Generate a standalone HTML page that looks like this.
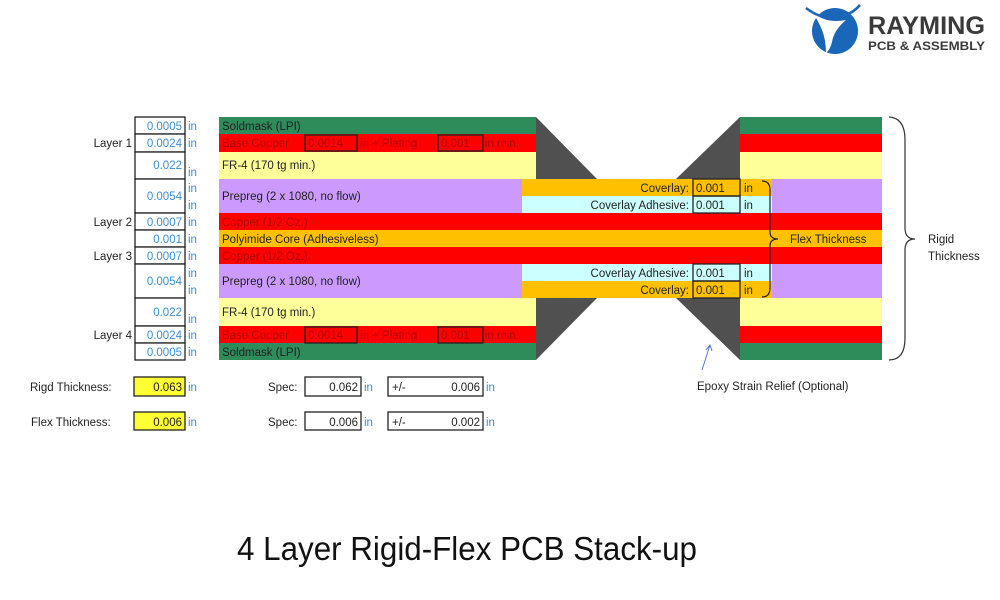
<!DOCTYPE html>
<html><head><meta charset="utf-8"><style>
html,body{margin:0;padding:0;background:#fff;width:1000px;height:600px;overflow:hidden}
svg{display:block}
text{font-family:"Liberation Sans",Arial,sans-serif}
</style></head><body>
<svg width="1000" height="600" viewBox="0 0 1000 600" xmlns="http://www.w3.org/2000/svg">
<rect width="1000" height="600" fill="#fff"/>
<!-- logo -->
<circle cx="835" cy="31" r="23" fill="#1a66b8"/>
<path d="M812 12 Q826 24 846 20 Q834 30 832 42 Q830 50 826 53 Q826 40 822 30 Q818 20 812 12Z" fill="#fff"/>
<path d="M806 8 Q824 22 844 16 Q854 12 860 5" stroke="#1a66b8" stroke-width="2.5" fill="none"/>
<text x="868" y="34" font-size="25" font-weight="bold" fill="#3a3a3a" font-family="Liberation Serif" textLength="117" lengthAdjust="spacingAndGlyphs">RAYMING</text>
<text x="868" y="50" font-size="12" font-weight="bold" fill="#3a3a3a" textLength="117" lengthAdjust="spacingAndGlyphs">PCB &amp; ASSEMBLY</text>

<!-- left rigid -->
<rect x="219" y="117" width="317" height="17" fill="#2e8b5a"/>
<rect x="219" y="134" width="317" height="18" fill="#ff0000"/>
<rect x="219" y="152" width="317" height="27" fill="#ffff99"/>
<rect x="219" y="179" width="303" height="34" fill="#cc99ff"/>
<rect x="219" y="264" width="303" height="34" fill="#cc99ff"/>
<rect x="219" y="298" width="317" height="28" fill="#ffff99"/>
<rect x="219" y="326" width="317" height="17" fill="#ff0000"/>
<rect x="219" y="343" width="317" height="17" fill="#2e8b5a"/>
<!-- right rigid -->
<rect x="740" y="117" width="142" height="17" fill="#2e8b5a"/>
<rect x="740" y="134" width="142" height="18" fill="#ff0000"/>
<rect x="740" y="152" width="142" height="27" fill="#ffff99"/>
<rect x="772" y="179" width="110" height="34" fill="#cc99ff"/>
<rect x="772" y="264" width="110" height="34" fill="#cc99ff"/>
<rect x="740" y="298" width="142" height="28" fill="#ffff99"/>
<rect x="740" y="326" width="142" height="17" fill="#ff0000"/>
<rect x="740" y="343" width="142" height="17" fill="#2e8b5a"/>
<!-- gray epoxy -->
<polygon points="536,117 597,179 597,298 536,360" fill="#505050"/>
<polygon points="740,117 676,179 676,298 740,360" fill="#505050"/>
<!-- flex -->
<rect x="522" y="179" width="250" height="17" fill="#ffc000"/>
<rect x="522" y="196" width="250" height="17" fill="#ccffff"/>
<rect x="219" y="213" width="663" height="17" fill="#ff0000"/>
<rect x="219" y="230" width="663" height="17" fill="#ffc000"/>
<rect x="219" y="247" width="663" height="17" fill="#ff0000"/>
<rect x="522" y="264" width="250" height="17" fill="#ccffff"/>
<rect x="522" y="281" width="250" height="17" fill="#ffc000"/>

<g font-size="11.5" fill="#222">
<text x="222" y="130">Soldmask (LPI)</text>
<text x="222" y="147" fill="#b00000">Base Copper</text><text x="360" y="147" fill="#b00000">in +  Plating</text><text x="485" y="147" fill="#b00000">in min.</text>
<text x="222" y="169">FR-4 (170 tg min.)</text>
<text x="222" y="200">Prepreg (2 x 1080, no flow)</text>
<text x="222" y="226" fill="#b00000">Copper (1/2 Oz.)</text>
<text x="222" y="243">Polyimide Core (Adhesiveless)</text>
<text x="222" y="260" fill="#b00000">Copper (1/2 Oz.)</text>
<text x="222" y="285">Prepreg (2 x 1080, no flow)</text>
<text x="222" y="316">FR-4 (170 tg min.)</text>
<text x="222" y="339" fill="#b00000">Base Copper</text><text x="360" y="339" fill="#b00000">in +  Plating</text><text x="485" y="339" fill="#b00000">in min.</text>
<text x="222" y="356">Soldmask (LPI)</text>
</g>
<g fill="none" stroke="#222" stroke-width="1.3">
<rect x="305" y="135" width="52" height="16"/><rect x="438" y="135" width="45" height="16"/>
<rect x="305" y="327" width="52" height="16"/><rect x="438" y="327" width="45" height="16"/>
<rect x="693" y="179" width="47" height="17"/><rect x="693" y="196" width="47" height="17"/>
<rect x="693" y="264" width="47" height="17"/><rect x="693" y="281" width="47" height="17"/>
</g>
<g font-size="11.5" fill="#b00000">
<text x="308" y="147">0.0014</text><text x="441" y="147">0.001</text>
<text x="308" y="339">0.0014</text><text x="441" y="339">0.001</text>
</g>
<g font-size="11.5" fill="#222">
<text x="689" y="192" text-anchor="end">Coverlay:</text><text x="696" y="192">0.001</text><text x="744" y="192">in</text>
<text x="689" y="209" text-anchor="end">Coverlay Adhesive:</text><text x="696" y="209">0.001</text><text x="744" y="209">in</text>
<text x="689" y="277" text-anchor="end">Coverlay Adhesive:</text><text x="696" y="277">0.001</text><text x="744" y="277">in</text>
<text x="689" y="294" text-anchor="end">Coverlay:</text><text x="696" y="294">0.001</text><text x="744" y="294">in</text>
<text x="790" y="243">Flex Thickness</text>
<text x="928" y="243">Rigid</text><text x="928" y="260">Thickness</text>
<text x="697" y="390">Epoxy Strain Relief (Optional)</text>
</g>
<!-- braces -->
<path d="M762 181 Q770 181 770 190 L770 232 Q770 239 778 239 Q770 239 770 246 L770 288 Q770 297 762 297" fill="none" stroke="#222" stroke-width="1.2"/>
<path d="M889 117 Q905 118 905 140 L905 228 Q905 239 915 239 Q905 239 905 250 L905 338 Q905 360 889 360" fill="none" stroke="#333" stroke-width="1.2"/>
<path d="M702 370 L710 345 M706 350 L710 345 L712 351" fill="none" stroke="#5577cc" stroke-width="1"/>

<!-- left column -->
<g fill="#fff" stroke="#222" stroke-width="1.3">
<rect x="135" y="117" width="50" height="17"/><rect x="135" y="134" width="50" height="18"/>
<rect x="135" y="152" width="50" height="27"/><rect x="135" y="179" width="50" height="34"/>
<rect x="135" y="213" width="50" height="17"/><rect x="135" y="230" width="50" height="17"/>
<rect x="135" y="247" width="50" height="17"/><rect x="135" y="264" width="50" height="34"/>
<rect x="135" y="298" width="50" height="28"/><rect x="135" y="326" width="50" height="17"/>
<rect x="135" y="343" width="50" height="17"/>
</g>
<g font-size="11.5" fill="#3d8fd0" text-anchor="end">
<text x="182" y="130">0.0005</text><text x="182" y="147">0.0024</text><text x="182" y="169">0.022</text>
<text x="182" y="200">0.0054</text><text x="182" y="226">0.0007</text><text x="182" y="243">0.001</text>
<text x="182" y="260">0.0007</text><text x="182" y="285">0.0054</text><text x="182" y="316">0.022</text>
<text x="182" y="339">0.0024</text><text x="182" y="356">0.0005</text>
</g>
<g font-size="11.5" fill="#3d8fd0">
<text x="188" y="130">in</text><text x="188" y="147">in</text><text x="188" y="176">in</text>
<text x="188" y="192">in</text><text x="188" y="209">in</text><text x="188" y="226">in</text>
<text x="188" y="243">in</text><text x="188" y="260">in</text><text x="188" y="277">in</text>
<text x="188" y="294">in</text><text x="188" y="323">in</text><text x="188" y="339">in</text>
<text x="188" y="356">in</text>
</g>
<g font-size="11.5" fill="#222" text-anchor="end">
<text x="132" y="147">Layer 1</text><text x="132" y="226">Layer 2</text>
<text x="132" y="260">Layer 3</text><text x="132" y="339">Layer 4</text>
</g>

<!-- bottom -->
<g font-size="11.5" fill="#222">
<text x="30" y="391">Rigd Thickness:</text>
<text x="31" y="426">Flex Thickness:</text>
<text x="268" y="391">Spec:</text><text x="268" y="426">Spec:</text>
<text x="392" y="391">+/-</text><text x="392" y="426">+/-</text>
</g>
<g stroke="#222" stroke-width="1.3">
<rect x="134" y="377" width="51" height="19" fill="#ffff33"/>
<rect x="134" y="412" width="51" height="18" fill="#ffff33"/>
<rect x="305" y="377" width="56" height="19" fill="none"/>
<rect x="305" y="412" width="56" height="18" fill="none"/>
<rect x="388" y="377" width="95" height="19" fill="none"/>
<rect x="388" y="412" width="95" height="18" fill="none"/>
</g>
<g font-size="11.5" fill="#222" text-anchor="end">
<text x="182" y="391">0.063</text><text x="182" y="426">0.006</text>
<text x="358" y="391">0.062</text><text x="358" y="426">0.006</text>
<text x="480" y="391">0.006</text><text x="480" y="426">0.002</text>
</g>
<g font-size="11.5" fill="#3d8fd0">
<text x="188" y="391">in</text><text x="188" y="426">in</text>
<text x="364" y="391">in</text><text x="364" y="426">in</text>
<text x="486" y="391">in</text><text x="486" y="426">in</text>
</g>

<text x="237" y="560" font-size="33" fill="#111" font-family="'Noto Sans CJK SC','DejaVu Sans',sans-serif" textLength="460" lengthAdjust="spacingAndGlyphs">4 Layer Rigid-Flex PCB Stack-up</text>
</svg>
</body></html>
